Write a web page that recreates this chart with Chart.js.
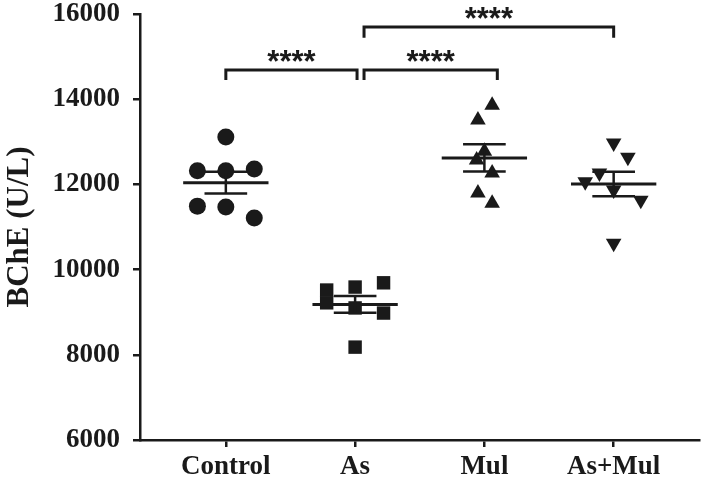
<!DOCTYPE html>
<html>
<head>
<meta charset="utf-8">
<script src="https://cdn.jsdelivr.net/npm/chart.js@4.4.1/dist/chart.umd.min.js"></script>
<style>
html, body { margin: 0; padding: 0; background: #fff; }
</style>
</head>
<body>
<canvas id="scatterChart" width="709" height="482"></canvas>
<script>
// groups and values (BChE, U/L)
var groups = ['Control', 'As', 'Mul', 'As+Mul'];
var controlValues = [13110, 12320, 12320, 12360, 11490, 11470, 11210];
var controlJitter = [0, -0.22, 0, 0.22, -0.22, 0, 0.22];
var asValues = [9520, 9220, 9590, 9690, 9100, 8980, 8180];
var asJitter = [-0.22, -0.22, 0, 0.22, 0, 0.22, 0];
var mulValues = [13860, 13510, 12780, 12570, 12270, 11800, 11560];
var mulJitter = [0.06, -0.05, 0, -0.06, 0.06, -0.05, 0.06];
var asMulValues = [12970, 12640, 12270, 12060, 11870, 11630, 10620];
var asMulJitter = [0, 0.11, -0.11, -0.22, 0, 0.21, 0];
var yTicks = [6000, 8000, 10000, 12000, 14000, 16000];
// significance comparisons: [from group, to group, label]
var comparisons = [[0, 1, '****'], [1, 2, '****'], [1, 3, '****']];

var ink = '#1a1a1a';
var serif = '"Liberation Serif", "Times New Roman", serif';

var stats = function(v) {
	var n = v.length;
	var m = v.reduce(function(a, b) { return a + b; }, 0) / n;
	var ss = v.reduce(function(a, b) { return a + (b - m) * (b - m); }, 0);
	return { mean: m, sem: Math.sqrt(ss / (n - 1)) / Math.sqrt(n) };
};

var segment = function(pts, width) {
	return {
		type: 'line',
		data: pts,
		borderColor: ink,
		borderWidth: width,
		pointRadius: 0,
		fill: false,
		clip: false
	};
};

var series = [
	{ values: controlValues, jitter: controlJitter, style: 'circle', radius: 8.5, rotation: 0 },
	{ values: asValues, jitter: asJitter, style: 'rect', radius: 9.5, rotation: 0 },
	{ values: mulValues, jitter: mulJitter, style: 'triangle', radius: 9, rotation: 0 },
	{ values: asMulValues, jitter: asMulJitter, style: 'triangle', radius: 9, rotation: 180 }
];

var datasets = [];
series.forEach(function(s, i) {
	var st = stats(s.values);
	datasets.push(segment([{ x: i - 0.33, y: st.mean }, { x: i + 0.33, y: st.mean }], 3));
	datasets.push(segment([{ x: i - 0.165, y: st.mean + st.sem }, { x: i + 0.165, y: st.mean + st.sem }], 2.5));
	datasets.push(segment([{ x: i - 0.165, y: st.mean - st.sem }, { x: i + 0.165, y: st.mean - st.sem }], 2.5));
	datasets.push(segment([{ x: i, y: st.mean - st.sem }, { x: i, y: st.mean + st.sem }], 2.5));
	datasets.push({
		type: 'scatter',
		label: groups[i],
		data: s.values.map(function(v, k) { return { x: i + s.jitter[k], y: v }; }),
		pointStyle: s.style,
		pointRadius: s.radius,
		pointRotation: s.rotation,
		pointBackgroundColor: ink,
		pointBorderColor: ink,
		pointBorderWidth: 0,
		clip: false
	});
});

// brackets: lower row for adjacent pairs, upper row for the long one
var bracketGeom = [
	{ x1: 0, x2: 1.015, bar: 14685, leg: 14450, text: 15060 },
	{ x1: 1.069, x2: 2.1, bar: 14685, leg: 14450, text: 15060 },
	{ x1: 1.069, x2: 3.0, bar: 15695, leg: 15440, text: 16060 }
];
comparisons.forEach(function(c, j) {
	var g = bracketGeom[j];
	datasets.push(segment([
		{ x: g.x1, y: g.leg }, { x: g.x1, y: g.bar },
		{ x: g.x2, y: g.bar }, { x: g.x2, y: g.leg }
	], 3));
});

var starPlugin = {
	id: 'stars',
	afterDraw: function(chart) {
		var ctx = chart.ctx, xs = chart.scales.x, ys = chart.scales.y;
		ctx.save();
		var size = 31;
		ctx.font = 'bold ' + size + 'px "Liberation Sans", Arial, sans-serif';
		ctx.fillStyle = ink;
		ctx.textAlign = 'center';
		ctx.textBaseline = 'alphabetic';
		comparisons.forEach(function(c, j) {
			var g = bracketGeom[j];
			var cx = xs.getPixelForValue((g.x1 + g.x2) / 2);
			var cy = ys.getPixelForValue(g.text);
			ctx.fillText(c[2], cx, cy + size * 0.58);
		});
		ctx.restore();
	}
};

var scatterChart = new Chart(document.getElementById('scatterChart'), {
	type: 'scatter',
	data: { datasets: datasets },
	plugins: [starPlugin],
	options: {
		responsive: false,
		animation: false,
		devicePixelRatio: 1,
		layout: { padding: { top: 14, right: 2, bottom: 0, left: 0 } },
		plugins: { legend: { display: false }, tooltip: { enabled: false } },
		scales: {
			x: {
				type: 'linear',
				min: -0.664,
				max: 3.664,
				afterBuildTicks: function(scale) {
					scale.ticks = groups.map(function(g, i) { return { value: i }; });
				},
				afterFit: function(scale) {
					scale.height = 42;
					scale.paddingLeft = 0;
					scale.paddingRight = 0;
				},
				ticks: {
					autoSkip: false,
					maxRotation: 0,
					padding: 4,
					color: ink,
					font: { family: serif, size: 27, weight: 'bold' },
					callback: function(v) { return groups[v]; }
				},
				grid: { drawOnChartArea: false, drawTicks: true, tickLength: 7, color: ink, lineWidth: 2.5 },
				border: { display: true, color: ink, width: 2.5 }
			},
			y: {
				min: 6000,
				max: 16000,
				afterBuildTicks: function(scale) {
					scale.ticks = yTicks.map(function(v) { return { value: v }; });
				},
				afterFit: function(scale) {
					scale.width = 140;
					scale.paddingTop = 0;
					scale.paddingBottom = 0;
				},
				ticks: {
					padding: 13,
					color: ink,
					font: { family: serif, size: 27, weight: 'bold' },
					callback: function(v) { return String(v); }
				},
				grid: { drawOnChartArea: false, drawTicks: true, tickLength: 7, color: ink, lineWidth: 2.5 },
				border: { display: true, color: ink, width: 2.5 },
				title: {
					display: true,
					text: 'BChE (U/L)',
					color: ink,
					padding: { top: 1, bottom: 0 },
					font: { family: serif, size: 31, weight: 'bold' }
				}
			}
		}
	}
});
</script>
</body>
</html>
